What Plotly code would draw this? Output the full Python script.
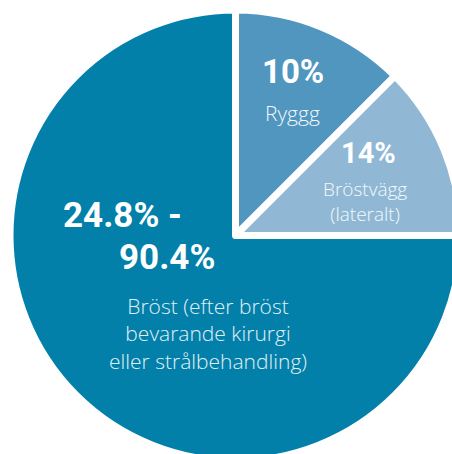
import plotly.graph_objects as go

# Data
categories = ["Ryggg", "Bröstvägg (lateralt)", "Bröst (efter bröst bevarande kirurgi eller strålbehandling)"]
slice_values = [12.5, 12.5, 75]
pct_labels = ["10%", "14%", "24.8% -<br>90.4%"]
name_labels = ["Ryggg", "Bröstvägg<br>(lateralt)", "Bröst (efter bröst<br>bevarande kirurgi<br>eller strålbehandling)"]
colors = ["#5096BF", "#90B8D5", "#0280AA"]

W, H = 471, 471
R = 225.5
CX, CY = 235.5, 235.5

fig = go.Figure(go.Pie(
    labels=categories,
    values=slice_values,
    sort=False,
    direction="clockwise",
    rotation=0,
    marker=dict(colors=colors, line=dict(color="white", width=7)),
    textinfo="none",
    hoverinfo="skip",
    showlegend=False,
    domain=dict(x=[(CX - R) / W, (CX + R) / W], y=[1 - (CY + R) / H, 1 - (CY - R) / H]),
))

def px(x):
    return x / W

def py(y):
    return 1 - y / H

# label placements (page pixel positions per line)
pct_pos = [[(292.5, 71.5, "center")], [(368, 152.5, "center")],
           [(61, 215.5, "left"), (117, 257.5, "left")]]
pct_sizes = [33, 29, 35]
name_pos = [(292, 113), (365, 201), (208, 333)]
name_sizes = [21, 19, 21]
name_colors = ["#F2F7FA", "#F4F8FB", "#E2F0F5"]

for i in range(3):
    lines = pct_labels[i].split("<br>")
    for line, (x, y, anchor) in zip(lines, pct_pos[i]):
        fig.add_annotation(
            x=px(x), y=py(y), xref="paper", yref="paper",
            text=line, showarrow=False, xanchor=anchor, yanchor="middle",
            font=dict(family="Roboto", size=pct_sizes[i], color="white", weight=700),
        )
    fig.add_annotation(
        x=px(name_pos[i][0]), y=py(name_pos[i][1]), xref="paper", yref="paper",
        text=name_labels[i], showarrow=False, xanchor="center", yanchor="middle",
        align="center",
        font=dict(family="Open Sans", size=name_sizes[i], color=name_colors[i], weight=300),
    )

fig.update_layout(
    width=W, height=H,
    margin=dict(l=0, r=0, t=0, b=0),
    paper_bgcolor="white",
    plot_bgcolor="white",
)

fig.write_html(
    "out.html",
    config={"displayModeBar": False, "staticPlot": True},
    post_script=(
        "document.body.style.margin='0';"
        "document.body.style.overflow='hidden';"
        "document.documentElement.style.overflow='hidden';"
    ),
)
